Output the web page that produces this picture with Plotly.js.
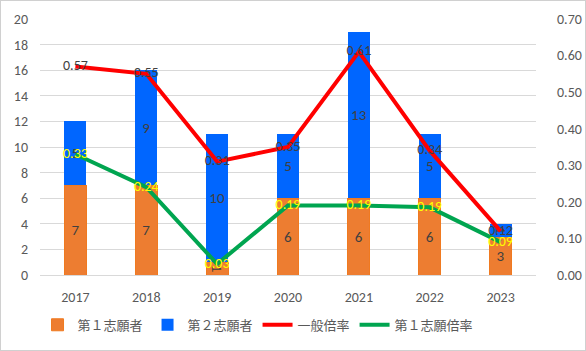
<!DOCTYPE html>
<html>
<head>
<meta charset="utf-8">
<script src="https://cdn.plot.ly/plotly-3.0.1.min.js"></script>
<style>
html,body{margin:0;padding:0;background:#fff;}
#wrap{position:relative;width:586px;height:351px;}
#chart{width:586px;height:351px;}
#frame{position:absolute;left:0;top:0;width:584px;height:349px;border:1px solid #d0d0d0;pointer-events:none;}
</style>
</head>
<body>
<div id="wrap"><div id="chart"></div><div id="frame"></div></div>
<script>
const years = ['2017','2018','2019','2020','2021','2022','2023'];
const first = [7, 7, 1, 6, 6, 6, 3];
const second = [5, 9, 10, 5, 13, 5, 1];
const generalRate = [0.57, 0.55, 0.31, 0.35, 0.61, 0.34, 0.12];
const firstRate = [0.33, 0.24, 0.03, 0.19, 0.19, 0.185, 0.09];
const firstRateLabels = ['0.33','0.24','0.03','0.19','0.19','0.19','0.09'];

const FONT = 'Calibri, Carlito, "Noto Sans", "Noto Sans CJK JP", sans-serif';
const labelFont = {family: FONT, size: 15, color: '#404040'};

const traces = [
  {type:'bar', name:'第１志願者', x:years, y:first,
   marker:{color:'#ED7D31', line:{color:'#F07A20', width:1}},
   text:first.map(String), textposition:'inside', insidetextanchor:'middle',
   constraintext:'none', textfont:labelFont, hoverinfo:'none'},
  {type:'bar', name:'第２志願者', x:years, y:second,
   marker:{color:'#0066FF'},
   text:second.map(String), textposition:'inside', insidetextanchor:'middle',
   constraintext:'none', textfont:labelFont, hoverinfo:'none'},
  {type:'scatter', mode:'lines+text', name:'一般倍率', x:years, y:generalRate, yaxis:'y2',
   line:{color:'#FF0000', width:4},
   text:generalRate.map(v=>v.toFixed(2)), textposition:'middle center',
   textfont:{family: FONT, size: 14, color:'#404040'}, hoverinfo:'none'},
  {type:'scatter', mode:'lines+text', name:'第１志願倍率', x:years, y:firstRate, yaxis:'y2',
   line:{color:'#00A550', width:4},
   text:firstRateLabels, textposition:'middle center',
   textfont:{family: FONT, size: 14, color:'#FFFF00'}, hoverinfo:'none'}
];

const layout = {
  width:586, height:351,
  margin:{l:40, r:50, t:19, b:75},
  paper_bgcolor:'#fff', plot_bgcolor:'#fff',
  font:{family: FONT, size:14, color:'#595959'},
  barmode:'stack', bargap:0.69,
  showlegend:true,
  legend:{orientation:'h', x:-0.005, xanchor:'left', y:-0.19, yanchor:'middle',
          font:{family: FONT, size:13, color:'#595959'}, traceorder:'normal',
          itemwidth:30},
  xaxis:{type:'category', showgrid:false, zeroline:false, showline:false, ticks:'',
         tickfont:{size:14, color:'#595959'}, ticklabelstandoff:12},
  yaxis:{range:[0,20], dtick:2, showgrid:true, gridcolor:'#d9d9d9', gridwidth:1,
         zeroline:true, zerolinecolor:'#d9d9d9', showline:false, ticks:'',
         tickfont:{size:14, color:'#595959'}, ticklabelstandoff:11},
  yaxis2:{range:[0,0.7], dtick:0.1, tickformat:'.2f', overlaying:'y', side:'right',
          showgrid:false, zeroline:false, showline:false, ticks:'',
          tickfont:{size:14, color:'#595959'}, ticklabelstandoff:20}
};

Plotly.newPlot('chart', traces, layout, {displayModeBar:false, staticPlot:true});
</script>
</body>
</html>
